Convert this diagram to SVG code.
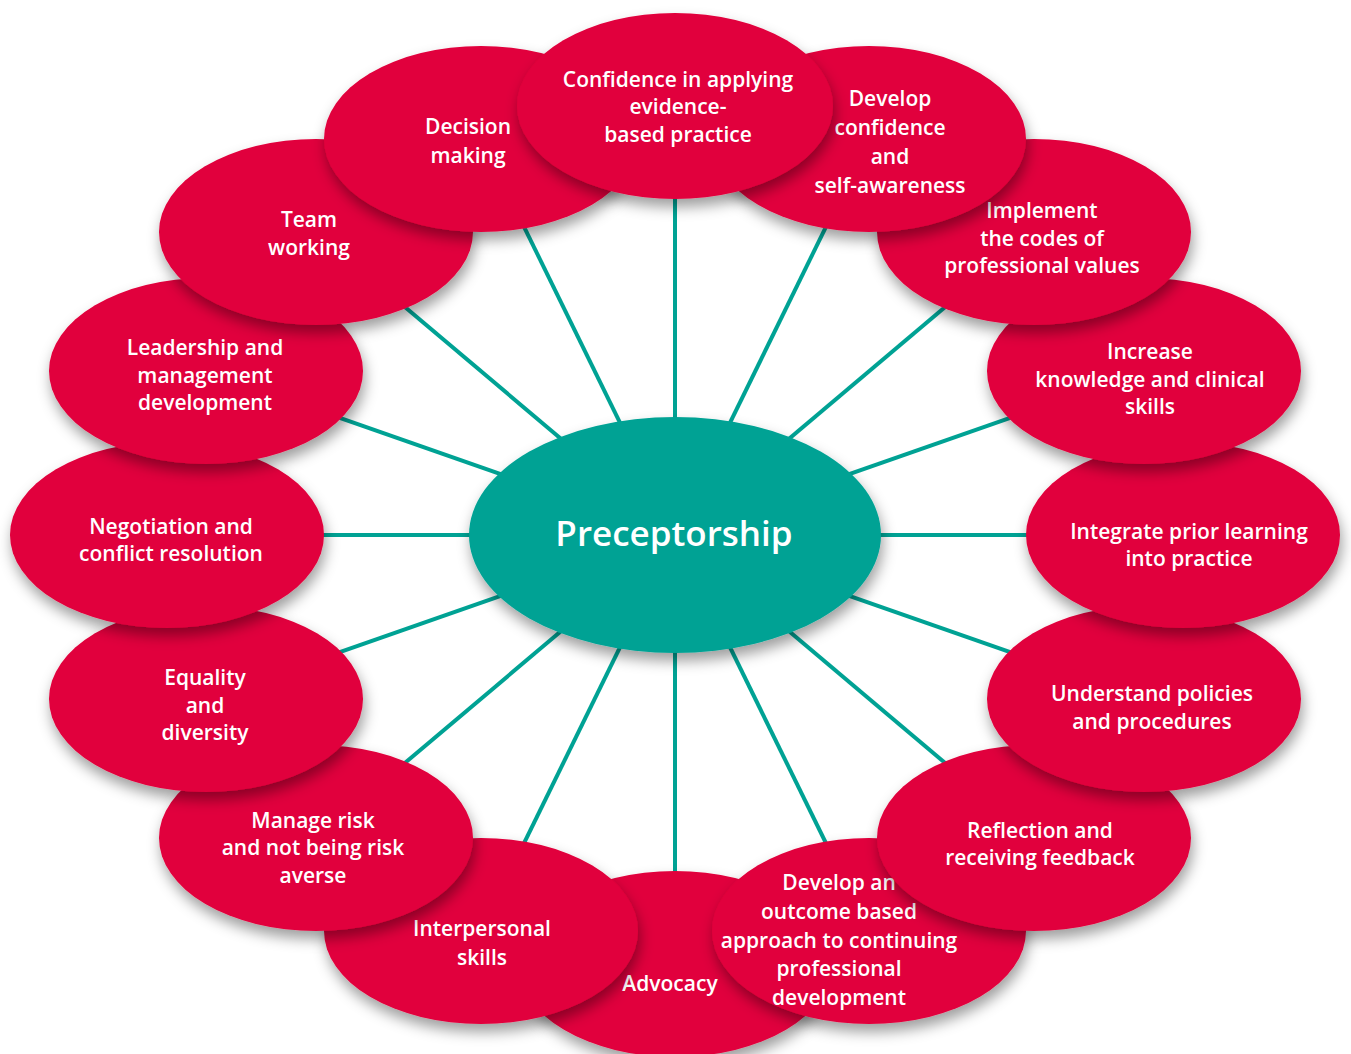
<svg xmlns="http://www.w3.org/2000/svg" width="1351" height="1054" viewBox="0 0 1351 1054">
<defs>
<filter id="sh" x="-20%" y="-20%" width="140%" height="150%">
<feDropShadow dx="2" dy="8" stdDeviation="7" flood-color="#000" flood-opacity="0.38"/>
</filter>
</defs>
<style>
.n{fill:#E1003C;filter:url(#sh)}
.c{fill:#00A294;filter:url(#sh)}
.t{fill:#fff;font-family:"Open Sans","Noto Sans",sans-serif;font-weight:600;font-size:21px;text-anchor:middle}
.big{font-size:35px}
.l{stroke:#00A294;stroke-width:4}
</style>
<rect width="1351" height="1054" fill="#fff"/>
<g id="connectors">
<line class="l" x1="675" y1="535" x2="675" y2="106"/>
<line class="l" x1="675" y1="535" x2="869" y2="139"/>
<line class="l" x1="675" y1="535" x2="1034" y2="232"/>
<line class="l" x1="675" y1="535" x2="1144" y2="371"/>
<line class="l" x1="675" y1="535" x2="1183" y2="535"/>
<line class="l" x1="675" y1="535" x2="1144" y2="699"/>
<line class="l" x1="675" y1="535" x2="1034" y2="838"/>
<line class="l" x1="675" y1="535" x2="869" y2="931"/>
<line class="l" x1="675" y1="535" x2="675" y2="964"/>
<line class="l" x1="675" y1="535" x2="481" y2="931"/>
<line class="l" x1="675" y1="535" x2="316" y2="838"/>
<line class="l" x1="675" y1="535" x2="206" y2="699"/>
<line class="l" x1="675" y1="535" x2="167" y2="535"/>
<line class="l" x1="675" y1="535" x2="206" y2="371"/>
<line class="l" x1="675" y1="535" x2="316" y2="232"/>
<line class="l" x1="675" y1="535" x2="481" y2="139"/>
</g>
<g id="node-advocacy">
<ellipse class="n" cx="675" cy="964" rx="157" ry="93"/>
<text class="t" x="670" y="991">Advocacy</text>
</g>
<g id="node-outcome">
<ellipse class="n" cx="869" cy="931" rx="157" ry="93"/>
<text class="t" x="839" y="890">Develop an</text>
<text class="t" x="839" y="919">outcome based</text>
<text class="t" x="839" y="948">approach to continuing</text>
<text class="t" x="839" y="976">professional</text>
<text class="t" x="839" y="1005">development</text>
</g>
<g id="node-interpersonal">
<ellipse class="n" cx="481" cy="931" rx="157" ry="93"/>
<text class="t" x="482" y="936">Interpersonal</text>
<text class="t" x="482" y="965">skills</text>
</g>
<g id="node-reflection">
<ellipse class="n" cx="1034" cy="838" rx="157" ry="93"/>
<text class="t" x="1040" y="838">Reflection and</text>
<text class="t" x="1040" y="865">receiving feedback</text>
</g>
<g id="node-risk">
<ellipse class="n" cx="316" cy="838" rx="157" ry="93"/>
<text class="t" x="313" y="828">Manage risk</text>
<text class="t" x="313" y="855">and not being risk</text>
<text class="t" x="313" y="883">averse</text>
</g>
<g id="node-policies">
<ellipse class="n" cx="1144" cy="699" rx="157" ry="93"/>
<text class="t" x="1152" y="701">Understand policies</text>
<text class="t" x="1152" y="729">and procedures</text>
</g>
<g id="node-equality">
<ellipse class="n" cx="206" cy="699" rx="157" ry="93"/>
<text class="t" x="205" y="685">Equality</text>
<text class="t" x="205" y="713">and</text>
<text class="t" x="205" y="740">diversity</text>
</g>
<g id="node-integrate">
<ellipse class="n" cx="1183" cy="535" rx="157" ry="93"/>
<text class="t" x="1189" y="539">Integrate prior learning</text>
<text class="t" x="1189" y="566">into practice</text>
</g>
<g id="node-negotiation">
<ellipse class="n" cx="167" cy="535" rx="157" ry="93"/>
<text class="t" x="171" y="534">Negotiation and</text>
<text class="t" x="171" y="561">conflict resolution</text>
</g>
<g id="node-knowledge">
<ellipse class="n" cx="1144" cy="371" rx="157" ry="93"/>
<text class="t" x="1150" y="359">Increase</text>
<text class="t" x="1150" y="387">knowledge and clinical</text>
<text class="t" x="1150" y="414">skills</text>
</g>
<g id="node-leadership">
<ellipse class="n" cx="206" cy="371" rx="157" ry="93"/>
<text class="t" x="205" y="355">Leadership and</text>
<text class="t" x="205" y="383">management</text>
<text class="t" x="205" y="410">development</text>
</g>
<g id="node-codes">
<ellipse class="n" cx="1034" cy="232" rx="157" ry="93"/>
<text class="t" x="1042" y="218">Implement</text>
<text class="t" x="1042" y="246">the codes of</text>
<text class="t" x="1042" y="273">professional values</text>
</g>
<g id="node-team">
<ellipse class="n" cx="316" cy="232" rx="157" ry="93"/>
<text class="t" x="309" y="227">Team</text>
<text class="t" x="309" y="255">working</text>
</g>
<g id="node-selfaware">
<ellipse class="n" cx="869" cy="139" rx="157" ry="93"/>
<text class="t" x="890" y="106">Develop</text>
<text class="t" x="890" y="135">confidence</text>
<text class="t" x="890" y="164">and</text>
<text class="t" x="890" y="193">self-awareness</text>
</g>
<g id="node-decision">
<ellipse class="n" cx="481" cy="139" rx="157" ry="93"/>
<text class="t" x="468" y="134">Decision</text>
<text class="t" x="468" y="163">making</text>
</g>
<g id="node-evidence">
<ellipse class="n" cx="675" cy="106" rx="158" ry="93"/>
<text class="t" x="678" y="87">Confidence in applying</text>
<text class="t" x="678" y="114">evidence-</text>
<text class="t" x="678" y="142">based practice</text>
</g>
<g id="node-center">
<ellipse class="c" cx="675" cy="535" rx="206" ry="118"/>
<text class="t big" x="674" y="546">Preceptorship</text>
</g>
</svg>
